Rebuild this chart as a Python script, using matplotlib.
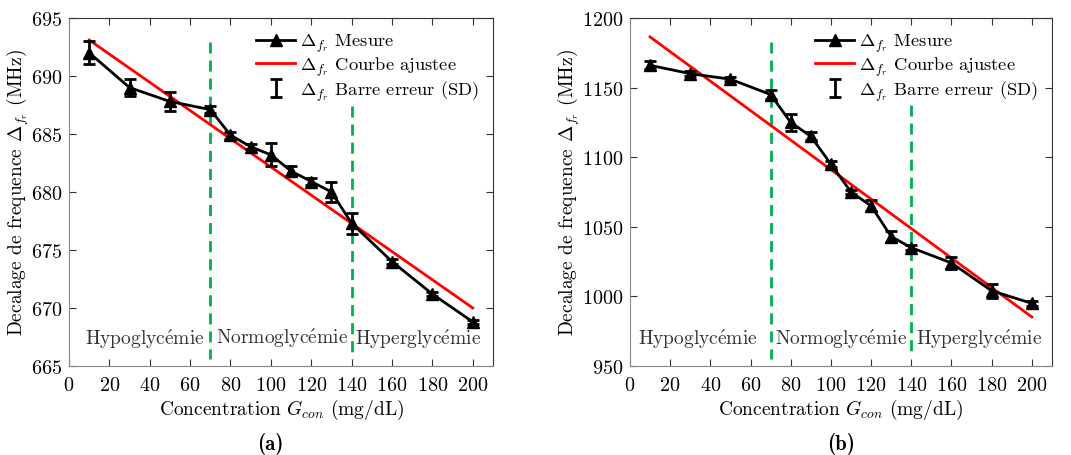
import matplotlib
matplotlib.use("Agg")
import matplotlib.pyplot as plt

plt.rcParams['font.family'] = ['cmr10', 'DejaVu Serif']
plt.rcParams['mathtext.fontset'] = 'cm'
plt.rcParams['axes.formatter.use_mathtext'] = True
plt.rcParams['font.size'] = 13

# --- données ---
conc = [10, 30, 50, 70, 80, 90, 100, 110, 120, 130, 140, 160, 180, 200]

freq_a = [692.0, 689.0, 687.8, 687.1, 684.9, 683.9, 683.2, 681.8, 680.9, 680.0, 677.3, 674.0, 671.2, 668.8]
err_a = [1.0, 0.7, 0.8, 0.3, 0.3, 0.2, 1.0, 0.4, 0.3, 0.9, 0.9, 0.2, 0.2, 0.2]
fit_x = [10, 200]
fit_a = [693.1, 670.0]

freq_b = [1166, 1160, 1156, 1145, 1125, 1115, 1095, 1075, 1065, 1043, 1035, 1024, 1004, 995]
err_b = [3, 2, 1.5, 3, 6, 3, 2, 1.5, 4, 4, 2, 4, 5, 2]
fit_b = [1186.4, 985.2]

ylim_a = (665, 695)
ylim_b = (950, 1200)
yticks_a = [665, 670, 675, 680, 685, 690, 695]
yticks_b = [950, 1000, 1050, 1100, 1150, 1200]
xticks = list(range(0, 201, 20))

bornes = [70, 140]
bornes_a = [(692.9, 665.6), (687.4, 665.6)]
bornes_b = [(1182.8, 955.3), (1137.7, 956.5)]

# accent via mathtext (cmr10 n'a pas le é)
e_acc = r'$\acute{\mathrm{e}}$'
zones = ['Hypoglyc' + e_acc + 'mie', 'Normoglyc' + e_acc + 'mie', 'Hyperglyc' + e_acc + 'mie']
zones_x_a = [37.7, 105.4, 172.8]
zones_y_a = [667.4, 667.5, 667.4]
zones_x_b = [33.7, 104.9, 173.8]
zones_y_b = [970, 970, 970]

lab = r'$\Delta_{f_r}$'

fig = plt.figure(figsize=(10.71, 4.56), dpi=100)
ax1 = fig.add_axes([0.0644, 0.1952, 0.3959, 0.7632])
ax2 = fig.add_axes([0.5882, 0.1952, 0.3940, 0.7632])

panels = [
    (ax1, freq_a, err_a, fit_a, ylim_a, yticks_a, bornes_a, zones_x_a, zones_y_a, '(a)', 0.252),
    (ax2, freq_b, err_b, fit_b, ylim_b, yticks_b, bornes_b, zones_x_b, zones_y_b, '(b)', 0.785),
]

for ax, fr, er, fit, ylim, yt, bor, zx, zy, tag, tx in panels:
    # lignes de séparation
    for xb, (y0, y1) in zip(bornes, bor):
        ax.plot([xb, xb], [y0, y1], color='#00B050', linestyle=(0, (4, 2.5)), linewidth=2, zorder=1)

    h_fit, = ax.plot(fit_x, fit, color='#FF0000', linewidth=2, zorder=2)
    h_mes, = ax.plot(conc, fr, color='black', marker='^', markersize=8, linewidth=2, zorder=3)
    h_err = ax.errorbar(conc, fr, yerr=er, fmt='none', ecolor='black', elinewidth=2,
                        capsize=4, capthick=2, zorder=4)

    for name, x, y in zip(zones, zx, zy):
        ax.text(x, y, name, ha='center', va='center', fontsize=14, color='#333333')

    ax.set_xlim(0, 210)
    ax.set_ylim(*ylim)
    ax.set_xticks(xticks)
    ax.set_yticks(yt)
    ax.tick_params(direction='in', length=5, top=True, right=True, labelsize=14.5, color='#333333')
    ax.tick_params(axis='x', pad=7)
    ax.tick_params(axis='y', pad=5)
    for side in ['left', 'bottom']:
        ax.spines[side].set_color('#888888')
    for side in ['top', 'right']:
        ax.spines[side].set_color('#333333')

    ax.set_xlabel(r'Concentration $G_{con}$ (mg/dL)', fontsize=14, labelpad=2)
    ax.set_ylabel(r'Decalage de frequence $\Delta_{f_r}$ (MHz)', fontsize=14, labelpad=0)

    ax.legend([h_mes, h_fit, h_err],
              [lab + ' Mesure', lab + ' Courbe ajustee', lab + ' Barre erreur (SD)'],
              loc='upper right', frameon=False, fontsize=13.3, handlelength=2.1,
              handletextpad=0.25, labelspacing=0.02, borderaxespad=0.35)

    fig.text(tx, 0.026, tag, ha='center', va='center', fontsize=15, family='cmb10')

fig.savefig('out.png', dpi=100)
